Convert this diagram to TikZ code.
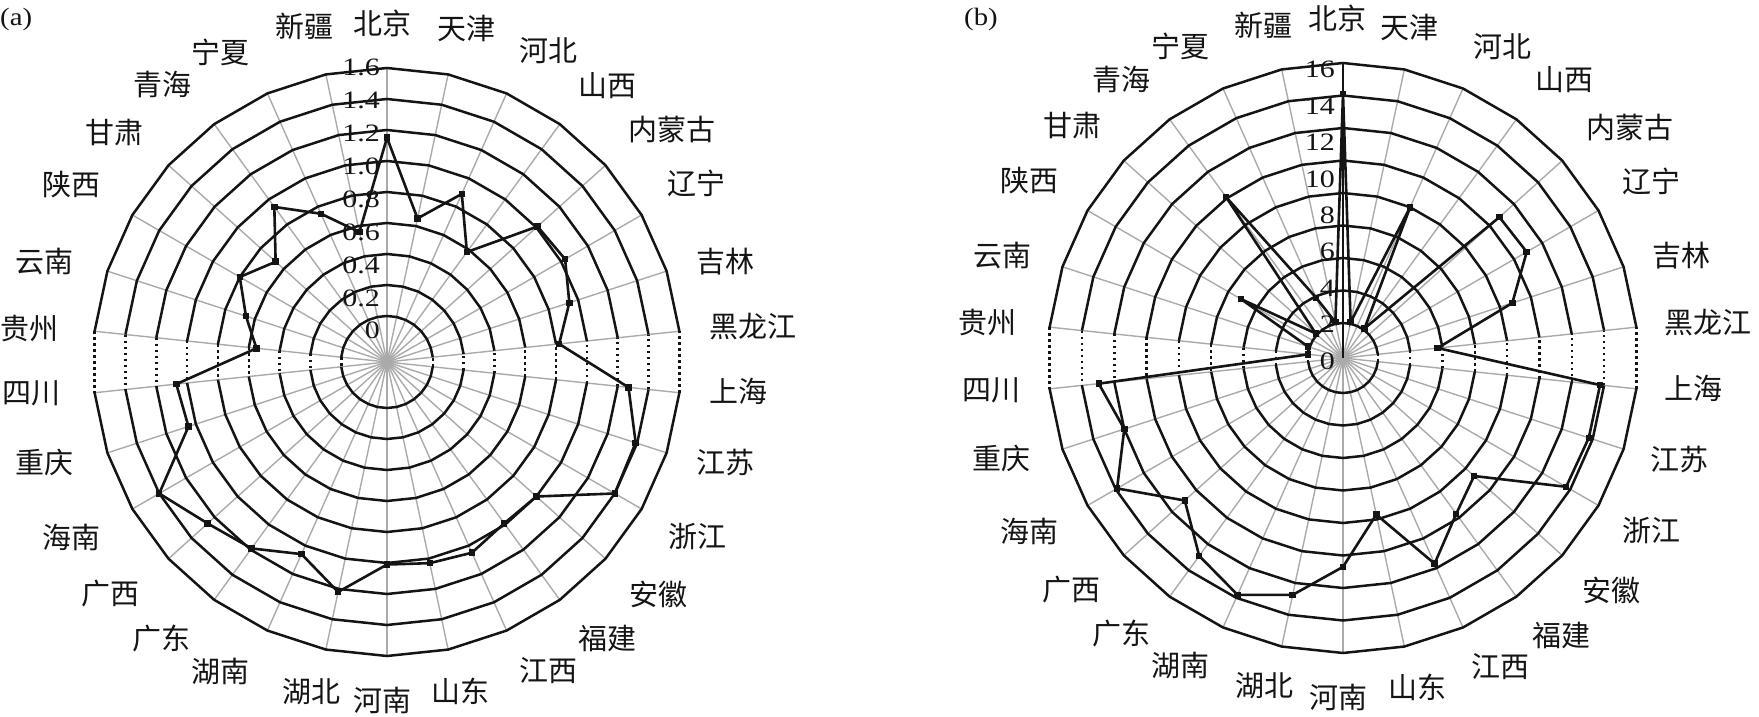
\documentclass[tikz,border=0pt]{standalone}
\usepackage{fontspec}
\setmainfont{Liberation Serif}
\newfontfamily\cjk{Noto Sans CJK SC}
\definecolor{spokegray}{RGB}{170,170,170}
\definecolor{ink}{RGB}{20,20,20}
\tikzset{
  ring/.style={draw=ink, line width=2.5pt},
  ringdot/.style={draw=ink, line width=2.5pt, dash pattern=on 2.5pt off 3.5pt},
  spoke/.style={draw=spokegray, line width=1.4pt},
  axisline/.style={draw=ink, line width=2pt},
  dataline/.style={draw=ink, line width=2.6pt, line join=miter},
  mk/.style={fill=ink, minimum size=6.5pt, inner sep=0pt, rectangle},
  prov/.style={font=\cjk\fontsize{29}{29}\selectfont, text=ink, inner sep=0pt},
  ticklab/.style={font=\fontsize{25}{25}\selectfont, text=ink, inner sep=0pt, anchor=east},
  panel/.style={font=\fontsize{25}{25}\selectfont, text=ink, inner sep=0pt, anchor=west},
}
\begin{document}
\begin{tikzpicture}[x=1pt,y=1pt]
\useasboundingbox (0,0) rectangle (1759,717);
\node[panel] (pa) at (0,697.5) {\scalebox{1.15}[1]{(a)}};
\node[panel] (pb) at (964,697.5) {\scalebox{1.15}[1]{(b)}};

% ---------------- chart (a) ----------------
\begin{scope}[shift={(387,355)}]
  \foreach \i in {0,...,29} \draw[spoke] (0,0) -- ({90-12*\i}:294);
  \foreach \k in {0,...,8} {
    \pgfmathsetmacro\rr{46+31*\k}
    \draw[ring] (6:\rr) \foreach \a in {18,30,...,174} { -- (\a:\rr) };
    \draw[ring] (186:\rr) \foreach \a in {198,210,...,354} { -- (\a:\rr) };
    \draw[ringdot] (174:\rr) -- (186:\rr);
    \draw[ringdot] (-6:\rr) -- (6:\rr);
  }
  \foreach \v [count=\i from 0] in {1.15,0.65,0.89,0.58,1.01,1.03,0.94,0.82,1.27,1.39,1.40,1.00,0.99,1.05,1.03,1.01,1.22,1.06,1.19,1.26,1.40,1.05,1.07,0.55,0.66,0.80,0.67,0.94,0.75,0.56} {
    \pgfmathsetmacro\rr{46+155*\v}
    \coordinate (a\i) at ({90-12*\i}:\rr);
  }
  \draw[dataline] (a0) \foreach \i in {1,...,29} { -- (a\i) } -- cycle;
  \foreach \i in {0,...,29} \node[mk] (ma\i) at (a\i) {};
  \foreach \t [count=\k from 0] in {0,0.2,0.4,0.6,0.8,1.0,1.2,1.4,1.6} {
    \node[ticklab] (ta\k) at (-7,{31.2+32.9*\k}) {\scalebox{1.2}[1]{\t}};
  }
  \foreach \p/\dx/\dy [count=\i from 0] in {
    北京/-5/339, 天津/79/334, 河北/161/311, 山西/220/276, 内蒙古/285/232,
    辽宁/309/179, 吉林/338/100, 黑龙江/366/35, 上海/351/-29, 江苏/338/-100,
    浙江/310/-175, 安徽/271/-232, 福建/220/-276, 江西/161/-309, 山东/73/-329,
    河南/-5/-338, 湖北/-76/-330, 湖南/-167/-310, 广东/-226/-277, 广西/-277/-232,
    海南/-316/-175, 重庆/-343/-100, 四川/-356/-31, 贵州/-357/33, 云南/-343/100,
    陕西/-316/177, 甘肃/-273/229, 青海/-225/277, 宁夏/-167/310, 新疆/-83/336} {
    \node[prov] (la\i) at (\dx,\dy) {\p};
  }
\end{scope}

% ---------------- chart (b) ----------------
\begin{scope}[shift={(1343,359)}]
  \foreach \i in {0,...,29} \draw[spoke] (0,0) -- ({90-12*\i}:295);
  \foreach \k in {0,...,8} {
    \pgfmathsetmacro\rr{35+32.5*\k}
    \draw[ring] (6:\rr) \foreach \a in {18,30,...,174} { -- (\a:\rr) };
    \draw[ring] (186:\rr) \foreach \a in {198,210,...,354} { -- (\a:\rr) };
    \draw[ringdot] (174:\rr) -- (186:\rr);
    \draw[ringdot] (-6:\rr) -- (6:\rr);
  }
  \coordinate (bc) at (0,0);
  \coordinate (btop) at (90:295);
  \draw[axisline] (bc) -- (btop);
  \foreach \v [count=\i from 0] in {14.1,0.1,8.0,0.1,10.8,10.9,8.8,3.7,13.75,13.75,13.7,8.7,9.7,11.7,7.7,10.7,12.75,13.8,12.9,10.95,13.9,12.0,12.96,0.0,0.1,5.1,0.1,10.1,1.9,0.1} {
    \pgfmathsetmacro\rr{35+16.25*\v}
    \coordinate (b\i) at ({90-12*\i}:\rr);
  }
  \draw[dataline] (b0) \foreach \i in {1,...,29} { -- (b\i) } -- cycle;
  \foreach \i in {0,...,29} \node[mk] (mb\i) at (b\i) {};
  \foreach \t [count=\k from 0] in {0,2,4,6,8,10,12,14,16} {
    \node[ticklab] (tb\k) at (-8,{-3+36.4*\k}) {\scalebox{1.2}[1]{\t}};
  }
  \foreach \p/\dx/\dy [count=\i from 0] in {
    北京/-6/340, 天津/66/331, 河北/159/311, 山西/221/278, 内蒙古/287/230,
    辽宁/308/177, 吉林/338/102, 黑龙江/365/35, 上海/350/-30, 江苏/336/-101,
    浙江/308/-173, 安徽/268/-232, 福建/218/-277, 江西/157/-309, 山东/74/-329,
    河南/-5/-339, 湖北/-79/-328, 湖南/-163/-308, 广东/-222/-276, 广西/-272/-232,
    海南/-314/-173, 重庆/-342/-100, 四川/-352/-32, 贵州/-356/35, 云南/-341/102,
    陕西/-314/177, 甘肃/-271/232, 青海/-222/278, 宁夏/-163/312, 新疆/-80/333} {
    \node[prov] (lb\i) at (\dx,\dy) {\p};
  }
\end{scope}
\end{tikzpicture}
\end{document}
